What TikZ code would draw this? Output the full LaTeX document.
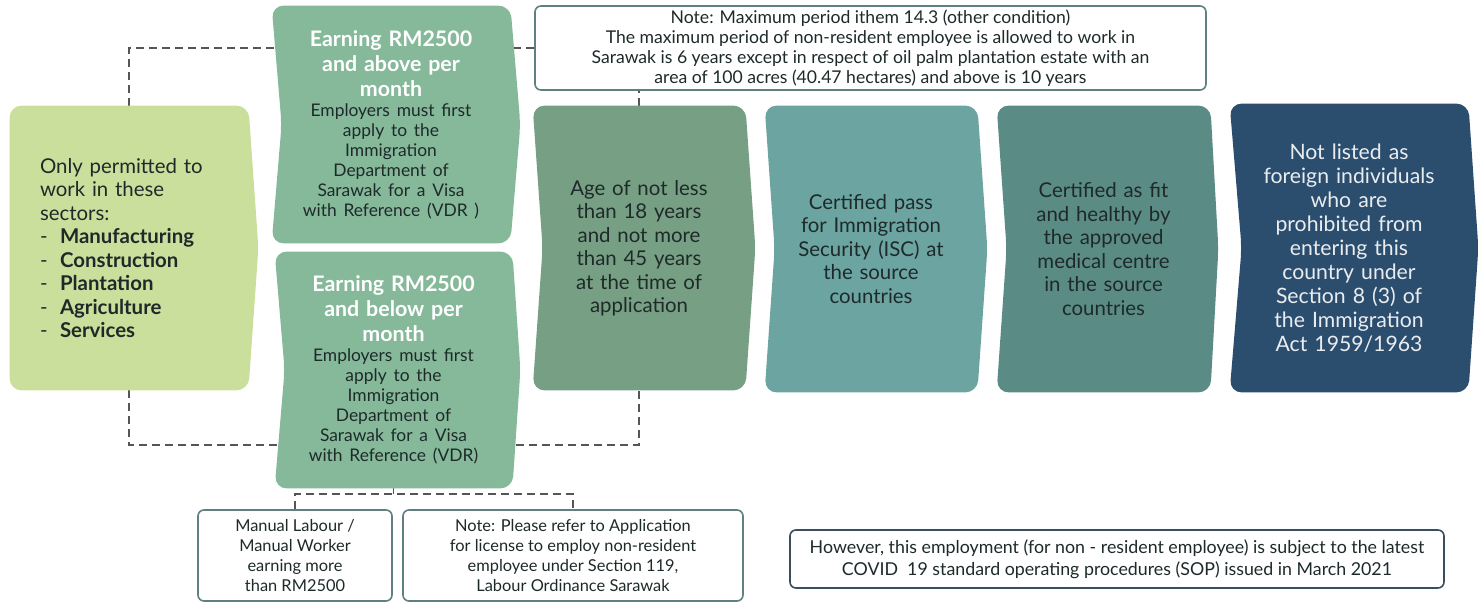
\documentclass[tikz,border=0pt]{standalone}
\usepackage{fontspec}
\setmainfont{Lato}
\usetikzlibrary{positioning}
\usetikzlibrary{calc}
\usetikzlibrary{backgrounds}

\definecolor{sectgreen}{HTML}{C9DF9B}
\definecolor{earngreen}{HTML}{85B99A}
\definecolor{agegreen}{HTML}{779F83}
\definecolor{iscteal}{HTML}{6CA4A1}
\definecolor{fitteal}{HTML}{5B8B85}
\definecolor{banblue}{HTML}{2C4E6E}
\definecolor{inkdark}{HTML}{1E2A2A}
\definecolor{notegray}{HTML}{5F8080}
\definecolor{covidgray}{HTML}{3B4E5E}
\definecolor{railgray}{HTML}{555555}

\newcommand{\sector}[1]{\makebox[10pt][l]{-}\textbf{#1}}
\newcommand{\earnhead}{\fontsize{10.7}{12.5}\selectfont\bfseries\color{white}}
\newcommand{\earnbody}{\fontsize{8.7}{10}\selectfont\color{inkdark}}
% chevron-like step background: node, colour, notch depth, point depth
\newcommand{\stepshape}[4]{
	\fill[#2, rounded corners=6pt] (#1.north west) -- (#1.north east) -- ($(#1.east)+(#4,0)$) -- (#1.south east) -- (#1.south west) -- ($(#1.west)+(#3,0)$) -- cycle;
}

\tikzset{
	stepbox/.style={inner sep=0pt, align=center, text=inkdark, font=\fontsize{10.2}{11.75}\selectfont},
	notebox/.style={draw=#1, fill=white, rounded corners=3pt, line width=0.8pt, inner sep=0pt, align=center, text=inkdark, font=\fontsize{8.2}{10}\selectfont},
	rail/.style={draw=railgray, dash pattern=on 4pt off 2.5pt, line width=0.9pt},
}

\begin{document}
\begin{tikzpicture}[x=0.5pt, y=-0.5pt]
\useasboundingbox (0,0) rectangle (1479,603);

% steps
\node[stepbox, minimum width=119pt, minimum height=142pt, text width=89pt, align=left] (sect) at (129,248)
	{Only permitted to\\work in these\\sectors:\\\sector{Manufacturing}\\\sector{Construction}\\\sector{Plantation}\\\sector{Agriculture}\\\sector{Services}};
\node[stepbox, minimum width=119pt, minimum height=118.5pt, text width=100pt] (above) at (391,124.5)
	{{\earnhead Earning RM2500\\and above per\\month\par}{\earnbody Employers must first\\apply to the\\Immigration\\Department of\\Sarawak for a Visa\\with Reference (VDR )\par}};
\node[stepbox, minimum width=118.5pt, minimum height=118pt, text width=100pt] (below) at (393.5,370)
	{{\earnhead Earning RM2500\\and below per\\month\par}{\earnbody Employers must first\\apply to the\\Immigration\\Department of\\Sarawak for a Visa\\with Reference (VDR)\par}};
\node[stepbox, minimum width=106pt, minimum height=142pt, text width=84pt] (age) at (639,248)
	{Age of not less\\than 18 years\\and not more\\than 45 years\\at the time of\\application};
\node[stepbox, minimum width=106pt, minimum height=143pt, text width=90pt] (isc) at (871,249)
	{Certified pass\\for Immigration\\Security (ISC) at\\the source\\countries};
\node[stepbox, minimum width=106.5pt, minimum height=143pt, text width=90pt] (fit) at (1103.5,249)
	{Certified as fit\\and healthy by\\the approved\\medical centre\\in the source\\countries};
\node[stepbox, minimum width=119pt, minimum height=144pt, text width=100pt, text=white!90!banblue, font=\fontsize{10.6}{12}\selectfont] (ban) at (1349,248)
	{Not listed as\\foreign individuals\\who are\\prohibited from\\entering this\\country under\\Section 8 (3) of\\the Immigration\\Act 1959/1963};

% notes
\node[notebox=notegray, minimum width=335.5pt, minimum height=42pt, font=\fontsize{8.8}{10}\selectfont] (note) at (870.5,48)
	{Note: Maximum period ithem 14.3 (other condition)\\The maximum period of non-resident employee is allowed to work in\\Sarawak is 6 years except in respect of oil palm plantation estate with an\\area of 100 acres (40.47 hectares) and above is 10 years};
\node[notebox=notegray, minimum width=97pt, minimum height=45.5pt] (manual) at (295,555.5)
	{Manual Labour /\\Manual Worker\\earning more\\than RM2500};
\node[notebox=notegray, minimum width=170pt, minimum height=45.5pt] (licence) at (573,555.5)
	{Note: Please refer to Application\\for license to employ non-resident\\employee under Section 119,\\Labour Ordinance Sarawak};
\node[notebox=covidgray, minimum width=327pt, minimum height=29pt, font=\fontsize{8.9}{11}\selectfont] (covid) at (1117,559)
	{However, this employment (for non - resident employee) is subject to the latest\\COVID\ \ 19 standard operating procedures (SOP) issued in March 2021};

\coordinate (toprail) at (0,48);
\coordinate (lowrail) at (0,445);
\coordinate (fork) at (393,494);

\begin{scope}[on background layer]
\draw[rail] (sect.north) |- (note.west);
\draw[rail] (sect.south) -- (sect.south |- lowrail) -| (age.south);
\draw[rail] (age.north) -- (age.north |- note.south);
\draw[rail] (below.south) -- (below.south |- fork);
\draw[rail] (manual.north) |- (fork) -| (licence.north);

\stepshape{sect}{sectgreen}{0}{10}
\stepshape{above}{earngreen}{10}{10}
\stepshape{below}{earngreen}{10}{8}
\stepshape{age}{agegreen}{10}{10}
\stepshape{isc}{iscteal}{10}{10}
\stepshape{fit}{fitteal}{10}{8}
\stepshape{ban}{banblue}{12}{10}
\end{scope}
\end{tikzpicture}
\end{document}
